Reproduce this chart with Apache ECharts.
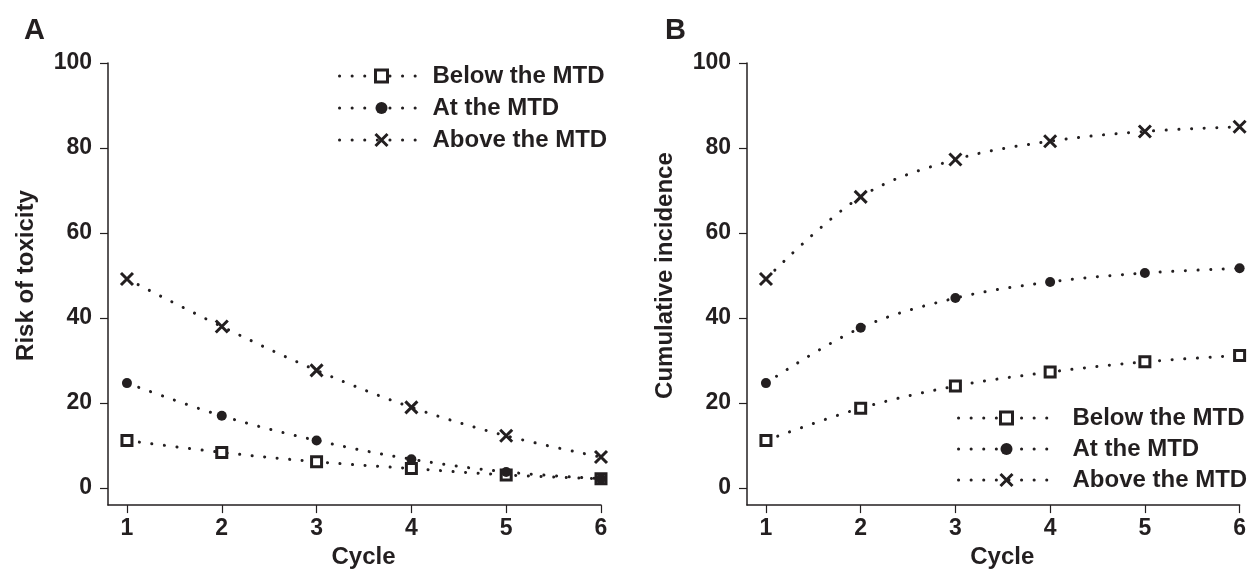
<!DOCTYPE html>
<html>
<head>
<meta charset="utf-8">
<title>Risk of toxicity and cumulative incidence by cycle</title>
<script src="https://cdn.jsdelivr.net/npm/echarts@6/dist/echarts.min.js"></script>
<style>
  html, body { margin: 0; padding: 0; background: #fff; }
  #chart { width: 1249px; height: 574px; }
</style>
</head>
<body>
<div id="chart"></div>
<script>
// data
var cycles = [1, 2, 3, 4, 5, 6];
var yTicks = [0, 20, 40, 60, 80, 100];
var seriesNames = ['Below the MTD', 'At the MTD', 'Above the MTD'];

// panel A: risk of toxicity per cycle
var riskBelow = [11.2, 8.4, 6.2, 4.6, 3.1, 2.2];
var riskAt = [24.7, 17.0, 11.2, 6.8, 3.8, 2.2];
var riskAbove = [49.2, 38.0, 27.7, 19.0, 12.3, 7.3];

// panel B: cumulative incidence
var cumBelow = [11.2, 18.8, 24.0, 27.3, 29.7, 31.2];
var cumAt = [24.7, 37.7, 44.7, 48.5, 50.6, 51.7];
var cumAbove = [49.2, 68.5, 77.3, 81.6, 83.9, 85.0];

var ink = '#231f20';
var font = '"Liberation Sans", Arial, Helvetica, sans-serif';

function pairs(vals) {
  return cycles.map(function (c, i) { return [c, vals[i]]; });
}

// marker style per series
var markers = {
  'Below the MTD': { symbol: 'rect', size: 10, itemStyle: { color: '#fff', borderColor: ink, borderWidth: 3 } },
  'At the MTD': { symbol: 'circle', size: 10, itemStyle: { color: ink, borderColor: ink, borderWidth: 0 } },
  'Above the MTD': { symbol: 'path://M0,0L10,10M10,0L0,10', size: 12, itemStyle: { color: ink, borderColor: ink, borderWidth: 3 } }
};

function makeSeries(name, vals, idx) {
  var m = markers[name];
  return {
    name: name,
    type: 'line',
    xAxisIndex: idx,
    yAxisIndex: idx,
    data: pairs(vals),
    smooth: 0.35,
    clip: false,
    symbol: m.symbol,
    symbolSize: m.size,
    itemStyle: m.itemStyle,
    lineStyle: { color: ink, width: 3, type: [0.1, 12.5], cap: 'round' },
    emphasis: { disabled: true },
    z: 3
  };
}

function xAxisOf(idx) {
  return {
    type: 'value',
    gridIndex: idx,
    min: 0.8,
    max: 6,
    name: 'Cycle',
    nameLocation: 'middle',
    nameGap: 36,
    nameTextStyle: { color: ink, fontSize: 24, fontWeight: 'bold', fontFamily: font, padding: [0, 0, 0, 18] },
    axisLine: { onZero: false, lineStyle: { color: ink, width: 1.5 } },
    axisTick: { length: 8, lineStyle: { color: ink, width: 1.2 }, customValues: cycles },
    axisLabel: { color: ink, fontSize: 23, fontWeight: 'bold', fontFamily: font, margin: 12, customValues: cycles },
    splitLine: { show: false }
  };
}

function yAxisOf(idx, title) {
  return {
    type: 'value',
    gridIndex: idx,
    min: -4,
    max: 100,
    name: title,
    nameLocation: 'middle',
    nameGap: 70,
    nameTextStyle: { color: ink, fontSize: 24, fontWeight: 'bold', fontFamily: font, padding: [0, 0, 0, 17] },
    axisLine: { show: true, onZero: false, lineStyle: { color: ink, width: 1.5 } },
    axisTick: { show: true, length: 8, lineStyle: { color: ink, width: 1.2 }, customValues: yTicks },
    axisLabel: { color: ink, fontSize: 23, fontWeight: 'bold', fontFamily: font, margin: 16, customValues: yTicks },
    splitLine: { show: false }
  };
}

function legendOf(left, top, width, gap, textPad) {
  return {
    left: left,
    top: top,
    orient: 'vertical',
    itemWidth: width,
    itemHeight: 15,
    itemGap: gap,
    selectedMode: false,
    data: seriesNames.map(function (n) {
      return n === 'At the MTD' ? { name: n, itemStyle: { borderWidth: 0 } } : n;
    }),
    itemStyle: { borderWidth: 3 },
    lineStyle: { width: 3 },
    textStyle: { color: ink, fontSize: 24, fontWeight: 'bold', fontFamily: font, padding: [0, 0, 0, textPad] }
  };
}

var chart = echarts.init(document.getElementById('chart'), null, { renderer: 'canvas' });

chart.setOption({
  animation: false,
  backgroundColor: '#fff',
  title: [
    { text: 'A', left: 24, top: 16, padding: 0, textStyle: { color: ink, fontSize: 29, fontWeight: 'bold', fontFamily: font } },
    { text: 'B', left: 665, top: 16, padding: 0, textStyle: { color: ink, fontSize: 29, fontWeight: 'bold', fontFamily: font } }
  ],
  grid: [
    { left: 108, top: 63, width: 493, height: 446 },
    { left: 747, top: 63, width: 494, height: 446 }
  ],
  legend: [
    legendOf(333, 59, 84, 8, 4),
    legendOf(952, 401, 96, 7, 13)
  ],
  xAxis: [xAxisOf(0), xAxisOf(1)],
  yAxis: [yAxisOf(0, 'Risk of toxicity'), yAxisOf(1, 'Cumulative incidence')],
  series: [
    makeSeries('Below the MTD', riskBelow, 0),
    makeSeries('At the MTD', riskAt, 0),
    makeSeries('Above the MTD', riskAbove, 0),
    makeSeries('Below the MTD', cumBelow, 1),
    makeSeries('At the MTD', cumAt, 1),
    makeSeries('Above the MTD', cumAbove, 1)
  ]
});
</script>
</body>
</html>
